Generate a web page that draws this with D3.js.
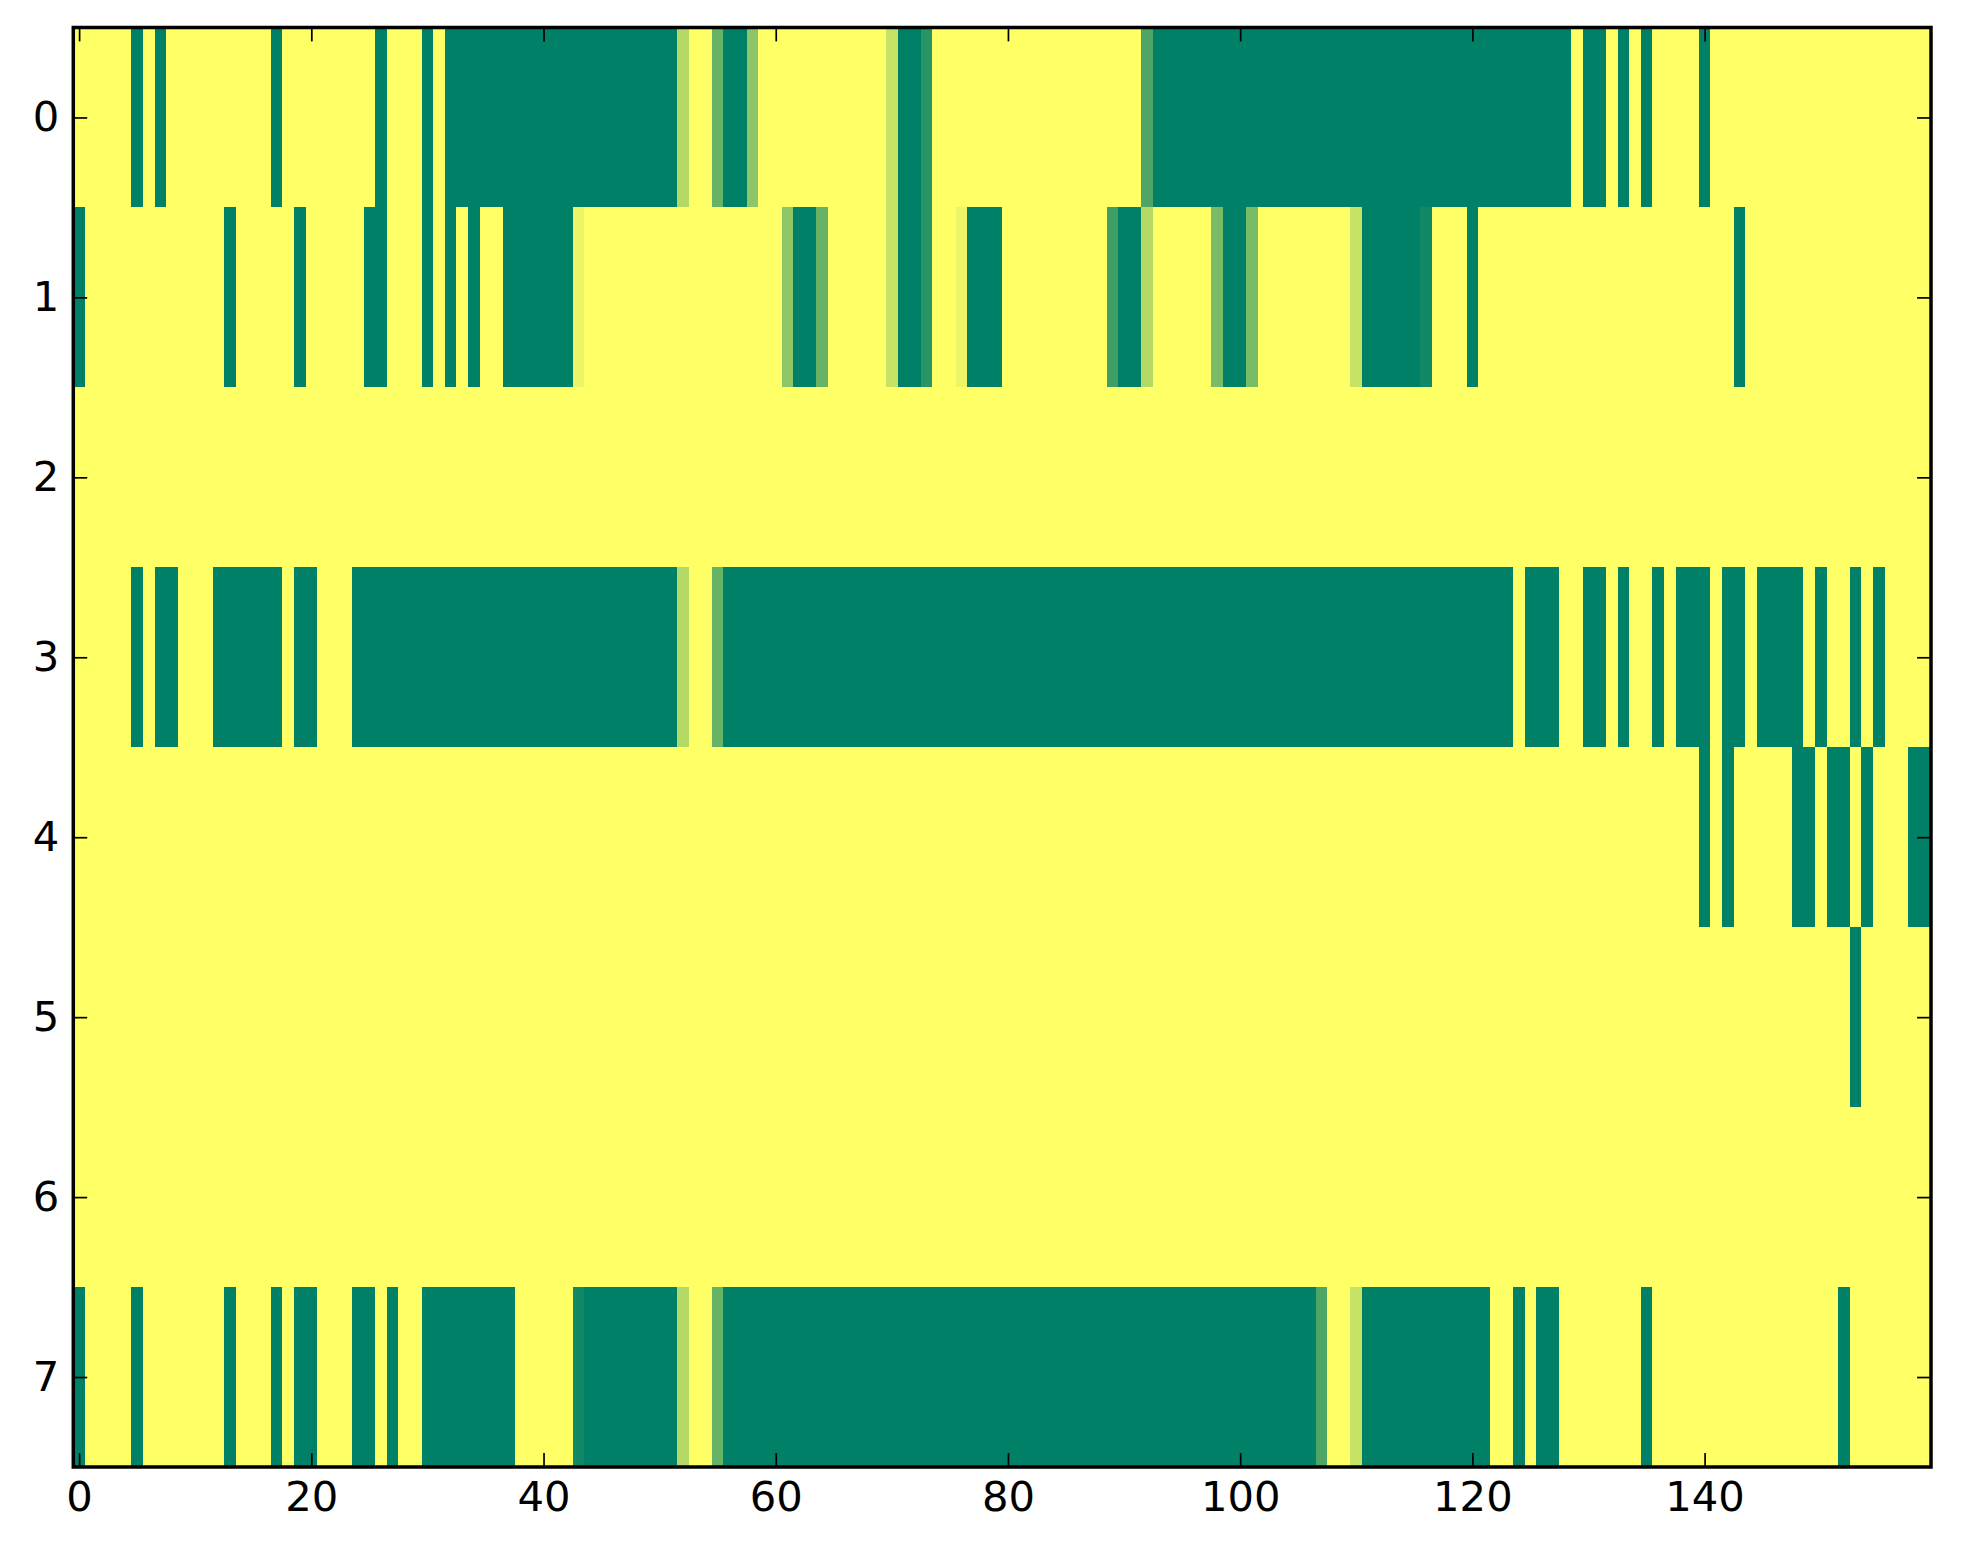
<!DOCTYPE html>
<html>
<head>
<meta charset="utf-8">
<script src="https://cdn.jsdelivr.net/npm/d3@7"></script>
<style>
  body { margin: 0; background: #fff; }
  svg { display: block; }
  .tick text { font-family: "DejaVu Sans", sans-serif; font-size: 41.7px; fill: #000; }
  .tick line { stroke: #000; stroke-width: 1.7px; }
</style>
</head>
<body>
<div id="chart"></div>
<script>
// one array per image row, 160 columns each (1 = yellow, 0 = green)
var row0 = [1,1,1,1,1,0,1,0,1,1, 1,1,1,1,1,1,1,0,1,1,
            1,1,1,1,1,1,0,1,1,1, 0,1,0,0,0,0,0,0,0,0,
            0,0,0,0,0,0,0,0,0,0, 0,0,.7,1,1,.4,0,0,.55,1,
            1,1,1,1,1,1,1,1,1,1, .78,0,0,.16,1,1,1,1,1,1,
            1,1,1,1,1,1,1,1,1,1, 1,1,.3,0,0,0,0,0,0,0,
            0,0,0,0,0,0,0,0,0,0, 0,0,0,0,0,0,0,0,0,0,
            0,0,0,0,0,0,0,0,0,1, 0,0,1,0,1,0,1,1,1,1,
            0,1,1,1,1,1,1,1,1,1, 1,1,1,1,1,1,1,1,1,1];
var row1 = [0,1,1,1,1,1,1,1,1,1, 1,1,1,0,1,1,1,1,1,0,
            1,1,1,1,1,0,0,1,1,1, 0,1,0,1,0,1,1,0,0,0,
            0,0,0,.92,1,1,1,1,1,1, 1,1,1,1,1,1,1,1,1,1,
            1,.55,0,0,.4,1,1,1,1,1, .78,0,0,.16,1,1,.92,0,0,0,
            1,1,1,1,1,1,1,1,1,.24, 0,0,.7,1,1,1,1,1,.47,0,
            0,.47,1,1,1,1,1,1,1,1, .78,0,0,0,0,0,.07,1,1,1,
            0,1,1,1,1,1,1,1,1,1, 1,1,1,1,1,1,1,1,1,1,
            1,1,1,0,1,1,1,1,1,1, 1,1,1,1,1,1,1,1,1,1];
var row2 = [1,1,1,1,1,1,1,1,1,1, 1,1,1,1,1,1,1,1,1,1,
            1,1,1,1,1,1,1,1,1,1, 1,1,1,1,1,1,1,1,1,1,
            1,1,1,1,1,1,1,1,1,1, 1,1,1,1,1,1,1,1,1,1,
            1,1,1,1,1,1,1,1,1,1, 1,1,1,1,1,1,1,1,1,1,
            1,1,1,1,1,1,1,1,1,1, 1,1,1,1,1,1,1,1,1,1,
            1,1,1,1,1,1,1,1,1,1, 1,1,1,1,1,1,1,1,1,1,
            1,1,1,1,1,1,1,1,1,1, 1,1,1,1,1,1,1,1,1,1,
            1,1,1,1,1,1,1,1,1,1, 1,1,1,1,1,1,1,1,1,1];
var row3 = [1,1,1,1,1,0,1,0,0,1, 1,1,0,0,0,0,0,0,1,0,
            0,1,1,1,0,0,0,0,0,0, 0,0,0,0,0,0,0,0,0,0,
            0,0,0,0,0,0,0,0,0,0, 0,0,.7,1,1,.4,0,0,0,0,
            0,0,0,0,0,0,0,0,0,0, 0,0,0,0,0,0,0,0,0,0,
            0,0,0,0,0,0,0,0,0,0, 0,0,0,0,0,0,0,0,0,0,
            0,0,0,0,0,0,0,0,0,0, 0,0,0,0,0,0,0,0,0,0,
            0,0,0,0,1,0,0,0,1,1, 0,0,1,0,1,1,0,1,0,0,
            0,1,0,0,1,0,0,0,0,1, 0,1,1,0,1,0,1,1,1,1];
var row4 = [1,1,1,1,1,1,1,1,1,1, 1,1,1,1,1,1,1,1,1,1,
            1,1,1,1,1,1,1,1,1,1, 1,1,1,1,1,1,1,1,1,1,
            1,1,1,1,1,1,1,1,1,1, 1,1,1,1,1,1,1,1,1,1,
            1,1,1,1,1,1,1,1,1,1, 1,1,1,1,1,1,1,1,1,1,
            1,1,1,1,1,1,1,1,1,1, 1,1,1,1,1,1,1,1,1,1,
            1,1,1,1,1,1,1,1,1,1, 1,1,1,1,1,1,1,1,1,1,
            1,1,1,1,1,1,1,1,1,1, 1,1,1,1,1,1,1,1,1,1,
            0,1,0,1,1,1,1,1,0,0, 1,0,0,1,0,1,1,1,0,0];
var row5 = [1,1,1,1,1,1,1,1,1,1, 1,1,1,1,1,1,1,1,1,1,
            1,1,1,1,1,1,1,1,1,1, 1,1,1,1,1,1,1,1,1,1,
            1,1,1,1,1,1,1,1,1,1, 1,1,1,1,1,1,1,1,1,1,
            1,1,1,1,1,1,1,1,1,1, 1,1,1,1,1,1,1,1,1,1,
            1,1,1,1,1,1,1,1,1,1, 1,1,1,1,1,1,1,1,1,1,
            1,1,1,1,1,1,1,1,1,1, 1,1,1,1,1,1,1,1,1,1,
            1,1,1,1,1,1,1,1,1,1, 1,1,1,1,1,1,1,1,1,1,
            1,1,1,1,1,1,1,1,1,1, 1,1,1,0,1,1,1,1,1,1];
var row6 = [1,1,1,1,1,1,1,1,1,1, 1,1,1,1,1,1,1,1,1,1,
            1,1,1,1,1,1,1,1,1,1, 1,1,1,1,1,1,1,1,1,1,
            1,1,1,1,1,1,1,1,1,1, 1,1,1,1,1,1,1,1,1,1,
            1,1,1,1,1,1,1,1,1,1, 1,1,1,1,1,1,1,1,1,1,
            1,1,1,1,1,1,1,1,1,1, 1,1,1,1,1,1,1,1,1,1,
            1,1,1,1,1,1,1,1,1,1, 1,1,1,1,1,1,1,1,1,1,
            1,1,1,1,1,1,1,1,1,1, 1,1,1,1,1,1,1,1,1,1,
            1,1,1,1,1,1,1,1,1,1, 1,1,1,1,1,1,1,1,1,1];
var row7 = [0,1,1,1,1,0,1,1,1,1, 1,1,1,0,1,1,1,0,1,0,
            0,1,1,1,0,0,1,0,1,1, 0,0,0,0,0,0,0,0,1,1,
            1,1,1,.07,0,0,0,0,0,0, 0,0,.7,1,1,.4,0,0,0,0,
            0,0,0,0,0,0,0,0,0,0, 0,0,0,0,0,0,0,0,0,0,
            0,0,0,0,0,0,0,0,0,0, 0,0,0,0,0,0,0,0,0,0,
            0,0,0,0,0,0,0,.3,1,1, .78,0,0,0,0,0,0,0,0,0,
            0,0,1,1,0,1,0,0,1,1, 1,1,1,1,1,0,1,1,1,1,
            1,1,1,1,1,1,1,1,1,1, 1,1,0,1,1,1,1,1,1,1];

var rows = [row0, row1, row2, row3, row4, row5, row6, row7];

var xTicks = [0, 20, 40, 60, 80, 100, 120, 140];
var yTicks = [0, 1, 2, 3, 4, 5, 6, 7];

var width = 1963, height = 1564;
var margin = {top: 27.5, right: 32, bottom: 97, left: 73.3};
var plotW = width - margin.left - margin.right;
var plotH = height - margin.top - margin.bottom;
var tickLen = 13.9;

var svg = d3.select("#chart")
  .append("svg")
    .attr("width", width)
    .attr("height", height);

var g = svg.append("g")
    .attr("transform", "translate(" + margin.left + "," + margin.top + ")");

var x = d3.scaleLinear().domain([-0.5, 159.5]).range([0, plotW]);
var y = d3.scaleLinear().domain([-0.5, 7.5]).range([0, plotH]);

// matplotlib "summer": green (0) -> yellow (1), linear in rgb
var color = d3.scaleLinear().domain([0, 1]).range(["#008066", "#ffff66"]).interpolate(d3.interpolateRgb);

var cells = [];
rows.forEach(function(r, i){
  r.forEach(function(v, j){ cells.push({row: i, col: j, value: v}); });
});

g.append("g")
  .attr("shape-rendering", "crispEdges")
  .selectAll("rect")
  .data(cells)
  .enter()
  .append("rect")
    .attr("x", function(d){ return x(d.col - 0.5); })
    .attr("y", function(d){ return y(d.row - 0.5); })
    .attr("width", function(d){ return x(d.col + 0.5) - x(d.col - 0.5) + 0.5; })
    .attr("height", function(d){ return y(d.row + 0.5) - y(d.row - 0.5) + 0.5; })
    .attr("fill", function(d){ return color(d.value); });

// ticks on all four sides, pointing inwards
var xBottom = g.append("g")
  .attr("transform", "translate(0," + plotH + ")")
  .call(d3.axisBottom(x).tickValues(xTicks).tickSizeInner(-tickLen).tickSizeOuter(0).tickPadding(14));
var xTop = g.append("g")
  .call(d3.axisTop(x).tickValues(xTicks).tickSizeInner(-tickLen).tickSizeOuter(0).tickFormat(""));
var yLeft = g.append("g")
  .call(d3.axisLeft(y).tickValues(yTicks).tickSizeInner(-tickLen).tickSizeOuter(0).tickPadding(14));
var yRight = g.append("g")
  .attr("transform", "translate(" + plotW + ",0)")
  .call(d3.axisRight(y).tickValues(yTicks).tickSizeInner(-tickLen).tickSizeOuter(0).tickFormat(""));

[xBottom, xTop, yLeft, yRight].forEach(function(a){ a.select(".domain").remove(); });

// frame
g.append("rect")
  .attr("width", plotW)
  .attr("height", plotH)
  .attr("fill", "none")
  .attr("stroke", "#000")
  .attr("stroke-width", 3.5);
</script>
</body>
</html>
